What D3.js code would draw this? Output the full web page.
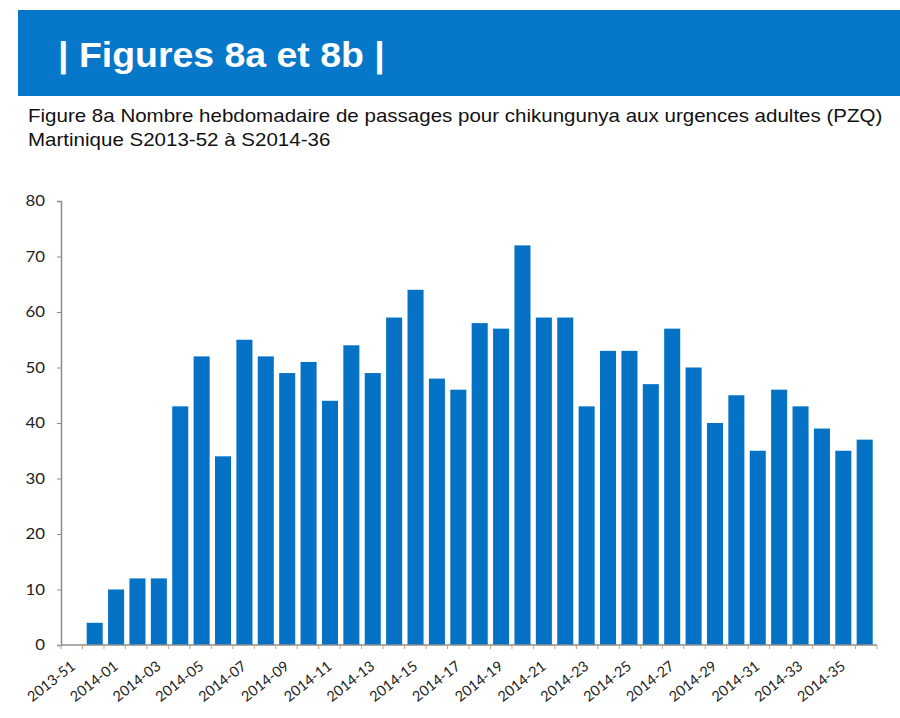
<!DOCTYPE html>
<html>
<head>
<meta charset="utf-8">
<script src="https://cdn.jsdelivr.net/npm/d3@7"></script>
<style>
  body { margin: 0; background: #fff; }
  svg { display: block; }
</style>
</head>
<body>
<div id="chart"></div>
<script>
const weeks = ['2013-51', '2013-52'];
for (let i = 1; i <= 36; i++) weeks.push('2014-' + String(i).padStart(2, '0'));

const passages = [0, 4, 10, 12, 12, 43, 52, 34, 55, 52, 49, 51, 44, 54, 49, 59, 64, 48, 46, 58,
  57, 72, 59, 59, 43, 53, 53, 47, 57, 50, 40, 45, 35, 46, 43, 39, 35, 37];

const yTicks = [0, 10, 20, 30, 40, 50, 60, 70, 80];
const headerText = '| Figures 8a et 8b |';
const titleLines = [
  'Figure 8a Nombre hebdomadaire de passages pour chikungunya aux urgences adultes (PZQ)',
  'Martinique S2013-52 à S2014-36'
];

const width = 900, height = 718;
const stretch = 1.16; // the source picture is a bit wider than tall
const svg = d3.select('#chart').append('svg')
  .attr('width', width).attr('height', height);

// header band
svg.append('rect')
  .attr('x', 18).attr('y', 10).attr('width', width - 18).attr('height', 86)
  .attr('fill', '#0677c9');
svg.append('text')
  .attr('transform', `translate(58,67) scale(1.07,1)`)
  .attr('fill', '#fff')
  .attr('font-family', 'Liberation Sans, Arial, sans-serif')
  .attr('font-weight', 'bold')
  .attr('font-size', 35)
  .text(headerText);

svg.selectAll('text.title')
  .data(titleLines)
  .join('text')
  .attr('class', 'title')
  .attr('transform', (d, i) => `translate(28,${122 + i * 24}) scale(${stretch},1)`)
  .attr('fill', '#111')
  .attr('font-family', 'Liberation Sans, Arial, sans-serif')
  .attr('font-size', 17.7)
  .text(d => d);

const plot = { left: 61, right: 877, top: 201, bottom: 645 };

const x = d3.scaleBand()
  .domain(weeks)
  .range([plot.left, plot.right])
  .paddingInner(0.25)
  .paddingOuter(0.2);

const y = d3.scaleLinear().domain([0, 80]).range([plot.bottom, plot.top]);

svg.append('g')
  .selectAll('rect')
  .data(weeks)
  .join('rect')
  .attr('x', d => x(d))
  .attr('width', x.bandwidth())
  .attr('y', (d, i) => y(passages[i]))
  .attr('height', (d, i) => y(0) - y(passages[i]))
  .attr('fill', '#0572c6');

// y axis
const yAxis = svg.append('g')
  .attr('transform', `translate(${plot.left},0)`)
  .call(d3.axisLeft(y).tickValues(yTicks).tickSize(4).tickPadding(16));
yAxis.select('.domain').attr('stroke', '#8c8c8c').attr('stroke-width', 1.5);
yAxis.selectAll('.tick line').attr('stroke', '#8c8c8c');
yAxis.selectAll('.tick text')
  .attr('text-anchor', 'end')
  .attr('transform', `scale(${stretch},1)`)
  .attr('x', -16 / stretch)
  .attr('font-family', 'Lato, Open Sans, sans-serif')
  .attr('font-size', 14.5)
  .attr('fill', '#222');

// x axis: ticks at category boundaries
const step = (plot.right - plot.left) / weeks.length;
svg.append('line')
  .attr('x1', plot.left).attr('x2', plot.right)
  .attr('y1', plot.bottom).attr('y2', plot.bottom)
  .attr('stroke', '#8c8c8c').attr('stroke-width', 1.5);
svg.append('g')
  .selectAll('line')
  .data(d3.range(weeks.length + 1))
  .join('line')
  .attr('x1', i => plot.left + i * step)
  .attr('x2', i => plot.left + i * step)
  .attr('y1', plot.bottom).attr('y2', plot.bottom + 4)
  .attr('stroke', '#c9a27a');

svg.append('g')
  .selectAll('text')
  .data(weeks.filter((d, i) => i % 2 === 0))
  .join('text')
  .attr('transform', d => `translate(${x(d) + x.bandwidth() / 2 + 3},${plot.bottom + 23}) rotate(-38)`)
  .attr('text-anchor', 'end')
  .attr('font-family', 'Lato, Open Sans, sans-serif')
  .attr('font-size', 14.5)
  .attr('fill', '#222')
  .text(d => d);
</script>
</body>
</html>
